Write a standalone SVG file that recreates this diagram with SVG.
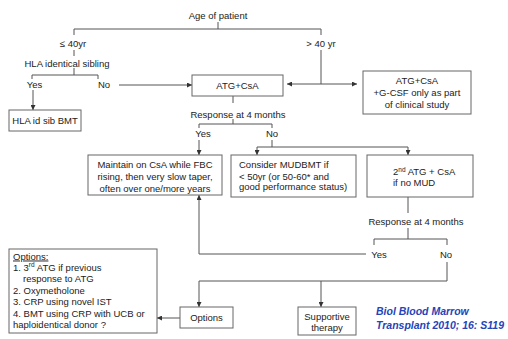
<svg xmlns="http://www.w3.org/2000/svg" width="508" height="339" viewBox="0 0 508 339">
<defs>
<marker id="ah" viewBox="0 0 8 8" refX="8" refY="4" markerWidth="5" markerHeight="5" orient="auto" markerUnits="userSpaceOnUse">
<path d="M0,0 L8,4 L0,8 z" fill="#333"/>
</marker>
<style>
text{font-family:"Liberation Sans",Arial,sans-serif;font-size:9.5px;fill:#222}
.m{text-anchor:middle}
.box{fill:#fff;stroke:#666;stroke-width:1}
.ln{fill:none;stroke:#555;stroke-width:1}
.ar{fill:none;stroke:#555;stroke-width:1;marker-end:url(#ah)}
.sup{font-size:6.5px}
.cite{font-weight:bold;font-style:italic;font-size:10.5px;fill:#2544b8}
</style>
</defs>
<rect width="508" height="339" fill="#fff"/>
<g id="connectors">
<path class="ln" d="M218,22 V29"/>
<path class="ln" d="M74,35 V29 H321 V35"/>
<path class="ln" d="M74,50 V56"/>
<path class="ln" d="M74,68 V75"/>
<path class="ln" d="M32,79 V75 H98 V79"/>
<path class="ar" d="M33,90 V110"/>
<path class="ar" d="M119,85 H192"/>
<path class="ln" d="M321,50 V84"/>
<path class="ar" d="M321,84 H287"/>
<path class="ar" d="M321,84 H357"/>
<path class="ln" d="M233,96 V103"/>
<path class="ln" d="M233,119 V124"/>
<path class="ln" d="M199,128 V124 H272 V128"/>
<path class="ar" d="M199,140 V155"/>
<path class="ln" d="M272,140 V147"/>
<path class="ln" d="M257,147 H408"/>
<path class="ar" d="M257,147 V155"/>
<path class="ar" d="M408,147 V155"/>
<path class="ln" d="M408,197 V213"/>
<path class="ln" d="M408,228 V239"/>
<path class="ln" d="M374,245 V239 H447 V245"/>
<path class="ar" d="M366,254 H199 V195"/>
<path class="ar" d="M447,262 V281 H199 V307"/>
<path class="ar" d="M321,281 V307"/>
<path class="ar" d="M180,318 H157"/>
</g>
<g id="labels">
<text class="m" x="218" y="18.5">Age of patient</text>
<text class="m" x="73" y="46.5">≤ 40yr</text>
<text class="m" x="321" y="46.5">&gt; 40 yr</text>
<text class="m" x="67" y="66.5">HLA identical sibling</text>
<text class="m" x="34.5" y="87.5">Yes</text>
<text class="m" x="104" y="87.5">No</text>
<text class="m" x="238" y="117.5">Response at 4 months</text>
<text class="m" x="203" y="136.5">Yes</text>
<text class="m" x="272" y="136.5">No</text>
<text class="m" x="416" y="224.5">Response at 4 months</text>
<text class="m" x="379" y="258">Yes</text>
<text class="m" x="446" y="258">No</text>
</g>
<g id="node-atg">
<rect class="box" x="192" y="75" width="91" height="21"/>
<text class="m" x="237.5" y="89">ATG+CsA</text>
</g>
<g id="node-atg-gcsf">
<rect class="box" x="363" y="71" width="108" height="43"/>
<text class="m" x="417" y="84">ATG+CsA</text>
<text class="m" x="417" y="96">+G-CSF only as part</text>
<text class="m" x="417" y="108">of clinical study</text>
</g>
<g id="node-hla-bmt">
<rect class="box" x="9" y="110" width="72" height="21"/>
<text class="m" x="45" y="124">HLA id sib BMT</text>
</g>
<g id="node-maintain">
<rect class="box" x="88" y="155" width="134" height="40"/>
<text class="m" x="155" y="168">Maintain on CsA while FBC</text>
<text class="m" x="155" y="180">rising, then very slow taper,</text>
<text class="m" x="155" y="191.5">often over one/more years</text>
</g>
<g id="node-consider">
<rect class="box" x="231" y="155" width="125" height="42"/>
<text x="239" y="168">Consider MUDBMT if</text>
<text x="239" y="179.5">&lt; 50yr (or 50-60* and</text>
<text x="239" y="190">good performance status)</text>
</g>
<g id="node-2nd-atg">
<rect class="box" x="367" y="155" width="106" height="42"/>
<text x="393" y="175">2<tspan class="sup" dy="-3.5">nd</tspan><tspan dy="3.5"> ATG + CsA</tspan></text>
<text x="393" y="186">if no MUD</text>
</g>
<g id="node-options-list">
<rect class="box" x="9" y="249" width="148" height="84"/>
<text x="13" y="259.5" text-decoration="underline">Options:</text>
<text x="13" y="270.5">1. 3<tspan class="sup" dy="-3.5">rd</tspan><tspan dy="3.5"> ATG if previous</tspan></text>
<text x="23" y="281.5">response to ATG</text>
<text x="13" y="293.5">2. Oxymetholone</text>
<text x="13" y="304.5">3. CRP using novel IST</text>
<text x="13" y="316.5">4. BMT using CRP with UCB or</text>
<text x="13" y="327.5">haploidentical donor ?</text>
</g>
<g id="node-options">
<rect class="box" x="180" y="307" width="53" height="21"/>
<text class="m" x="206.5" y="321">Options</text>
</g>
<g id="node-supportive">
<rect class="box" x="298" y="307" width="58" height="28"/>
<text class="m" x="327" y="319.5">Supportive</text>
<text class="m" x="327" y="331">therapy</text>
</g>
<g id="citation">
<text class="cite" x="376" y="315">Biol Blood Marrow</text>
<text class="cite" x="376" y="329">Transplant 2010; 16: S119</text>
</g>
</svg>
